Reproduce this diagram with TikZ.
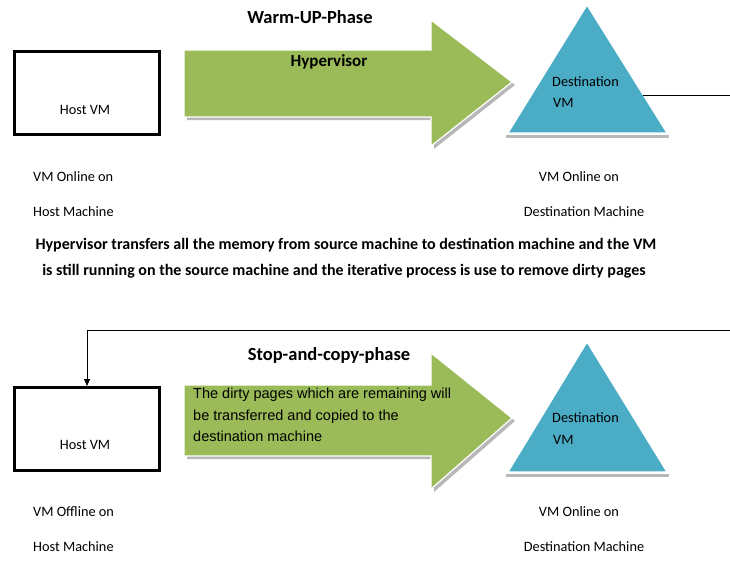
\documentclass[tikz,border=0pt]{standalone}
\usepackage{fontspec}
\setmainfont{Carlito}
\newfontfamily\arialfont{Liberation Sans}
\usetikzlibrary{arrows.meta}
\definecolor{arrgreen}{HTML}{9BBB59}
\definecolor{triblue}{HTML}{4BACC6}
\definecolor{shadowgray}{HTML}{9A9A9A}
\begin{document}
\begin{tikzpicture}[x=1pt,y=-1pt,
  hostbox/.style={draw, line width=3pt, minimum width=145pt, minimum height=83pt, inner sep=0pt},
  lbl/.style={font=\fontsize{14.3}{16}\selectfont, inner sep=0pt},
  lblleft/.style={lbl, anchor=west},
  titlef/.style={font=\fontsize{18.5}{21}\selectfont\bfseries, inner sep=0pt},
  parf/.style={font=\fontsize{16}{19}\selectfont\bfseries, inner sep=0pt},
  arrowfill/.style={fill=arrgreen, draw=white, line width=1.2pt},
  arrowshadow/.style={fill=shadowgray!70},
  trifill/.style={fill=triblue, draw=white, line width=1.2pt},
  conn/.style={draw, line width=0.8pt},
]
\useasboundingbox (0,0) rectangle (730,560);

% ===== Top section =====
\node[titlef] (t1) at (310,17) {Warm-UP-Phase};
\node[hostbox] (host1) at (87,93) {};
\node[lbl] (h1txt) at (85,110) {Host VM};
% arrow shadow + arrow
\fill[arrowshadow] (187,52) -- (434,52) -- (434,23) -- (515,85) -- (434,149) -- (434,120) -- (187,120) -- cycle;
\path[arrowfill] (184,50) -- (431,50) -- (431,20) -- (512,82) -- (431,146) -- (431,117) -- (184,117) -- cycle;
\node[inner sep=0pt, font=\fontsize{17}{20}\selectfont\bfseries] (hyp) at (329,62) {Hypervisor};
% triangle
\fill[shadowgray!70] (506,135) -- (669,135) -- (669,138) -- (506,138) -- cycle;
\path[trifill] (587,5) -- (667,133) -- (508,133) -- cycle;
\coordinate (tri1r) at (643,95);
\node[lblleft] (d1a) at (552,82) {Destination};
\node[lblleft] (d1b) at (553,103) {VM};
\coordinate (edge1) at (730,95);
\draw[conn] (tri1r) -- (edge1);

\node[lblleft] (l1a) at (33,177) {VM Online on};
\node[lblleft] (l1b) at (33,212) {Host Machine};
\node[lbl] (l1c) at (579,177) {VM Online on};
\node[lbl] (l1d) at (584,212) {Destination Machine};

\node[parf] (p1) at (346,245) {Hypervisor transfers all the memory from  source machine to destination machine and the VM};
\node[parf] (p2) at (344,271) {is still running on the source machine and the iterative  process is use to remove dirty pages};

% ===== Bottom section =====
\node[titlef] (t2) at (329,355) {Stop-and-copy-phase};
\node[hostbox] (host2) at (87,429) {};
\node[lbl] (h2txt) at (85,445) {Host VM};
\coordinate (edge2) at (730,330);
\draw[conn, -{Triangle[length=7pt,width=6pt]}] (edge2) -| (host2.north);

\fill[arrowshadow] (187,387) -- (434,387) -- (434,357) -- (515,421) -- (434,492) -- (434,459) -- (187,459) -- cycle;
\path[arrowfill] (184,385) -- (431,385) -- (431,353) -- (512,418) -- (431,489) -- (431,456) -- (184,456) -- cycle;
\node[anchor=north west, inner sep=0pt, align=left, font=\arialfont\fontsize{14.5}{21.5}\selectfont] (dirty) at (193,388) {The dirty pages which are remaining will\\be transferred and copied to the\\destination machine};

\fill[shadowgray!70] (506,474) -- (669,474) -- (669,477) -- (506,477) -- cycle;
\path[trifill] (587,342) -- (667,472) -- (508,472) -- cycle;
\node[lblleft] (d2a) at (552,418) {Destination};
\node[lblleft] (d2b) at (553,440) {VM};

\node[lblleft] (l2a) at (33,512) {VM Offline on};
\node[lblleft] (l2b) at (33,547) {Host Machine};
\node[lbl] (l2c) at (579,512) {VM Online on};
\node[lbl] (l2d) at (584,547) {Destination Machine};
\end{tikzpicture}
\end{document}
